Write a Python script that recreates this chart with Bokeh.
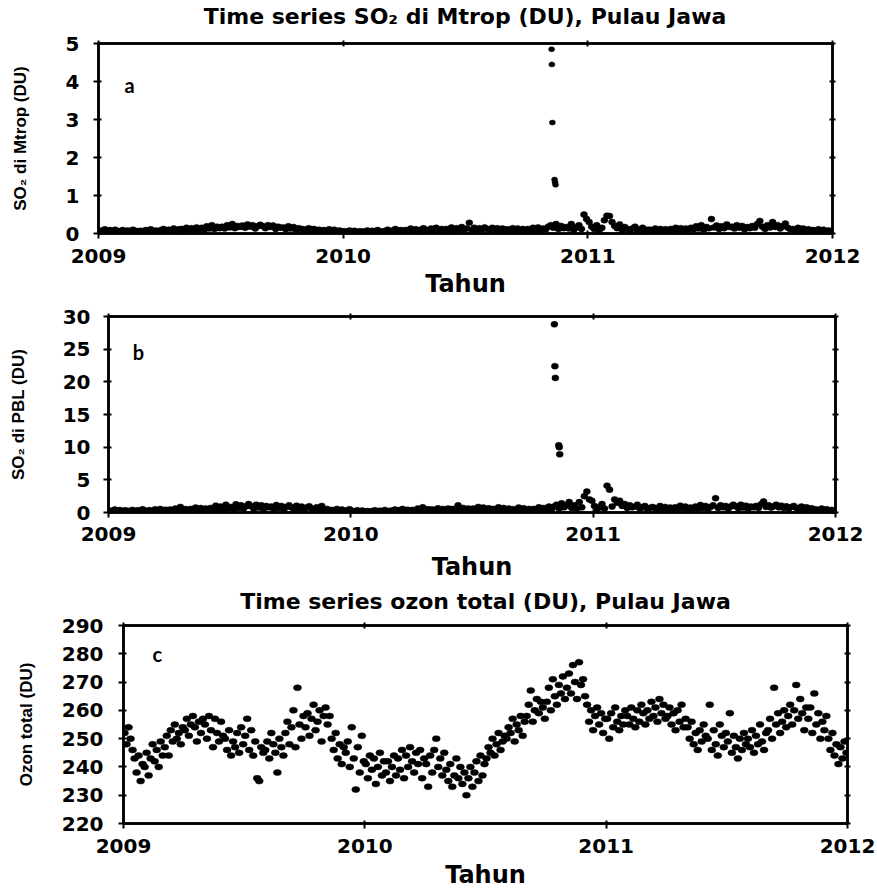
from bokeh.plotting import figure
from bokeh.models import Range1d, FixedTicker, LinearAxis, Label, CustomJSTickFormatter, Div
from bokeh.embed import file_html
from bokeh.resources import INLINE

years = [2009, 2010, 2011]
x_ticks = [2009, 2010, 2011, 2012]

# ---------------- SO2 middle troposphere (DU), 8 samples per month ----------------
mtrop_2009 = [
    [0.08, 0.05, 0.11, 0.06, 0.09, 0.04, 0.10, 0.07],
    [0.06, 0.09, 0.04, 0.08, 0.05, 0.10, 0.07, 0.06],
    [0.07, 0.04, 0.09, 0.06, 0.11, 0.05, 0.08, 0.06],
    [0.09, 0.12, 0.06, 0.10, 0.07, 0.13, 0.08, 0.11],
    [0.12, 0.08, 0.15, 0.10, 0.14, 0.09, 0.16, 0.11],
    [0.15, 0.10, 0.19, 0.13, 0.22, 0.12, 0.18, 0.14],
    [0.18, 0.13, 0.22, 0.16, 0.25, 0.14, 0.20, 0.17],
    [0.21, 0.15, 0.24, 0.18, 0.22, 0.13, 0.19, 0.23],
    [0.19, 0.14, 0.22, 0.17, 0.21, 0.12, 0.18, 0.15],
    [0.16, 0.11, 0.19, 0.13, 0.17, 0.10, 0.14, 0.12],
    [0.11, 0.07, 0.14, 0.09, 0.12, 0.06, 0.10, 0.08],
    [0.09, 0.05, 0.11, 0.07, 0.10, 0.04, 0.08, 0.06],
]
mtrop_2010 = [
    [0.06, 0.04, 0.08, 0.05, 0.07, 0.03, 0.06, 0.05],
    [0.05, 0.08, 0.04, 0.07, 0.05, 0.09, 0.06, 0.04],
    [0.07, 0.10, 0.05, 0.08, 0.12, 0.06, 0.09, 0.07],
    [0.09, 0.06, 0.13, 0.08, 0.11, 0.07, 0.10, 0.14],
    [0.10, 0.07, 0.13, 0.09, 0.15, 0.08, 0.12, 0.10],
    [0.12, 0.08, 0.16, 0.10, 0.14, 0.09, 0.17, 0.11],
    [0.13, 0.28, 0.10, 0.15, 0.09, 0.14, 0.11, 0.16],
    [0.12, 0.09, 0.15, 0.11, 0.14, 0.08, 0.13, 0.10],
    [0.11, 0.08, 0.14, 0.10, 0.13, 0.07, 0.12, 0.09],
    [0.12, 0.09, 0.15, 0.10, 0.16, 0.08, 0.13, 0.11],
    [0.18, 0.22, 0.15, 0.25, 0.12, 0.20, 0.14, 0.17],
    [0.13, 0.25, 0.10, 0.16, 0.22, 0.12, 0.50, 0.38],
]
mtrop_2011 = [
    [0.30, 0.18, 0.12, 0.22, 0.09, 0.15, 0.35, 0.47],
    [0.46, 0.30, 0.20, 0.14, 0.24, 0.10, 0.17, 0.12],
    [0.09, 0.13, 0.18, 0.07, 0.11, 0.15, 0.08, 0.10],
    [0.10, 0.07, 0.13, 0.09, 0.12, 0.06, 0.11, 0.08],
    [0.12, 0.09, 0.15, 0.10, 0.14, 0.08, 0.13, 0.11],
    [0.15, 0.11, 0.19, 0.13, 0.22, 0.10, 0.17, 0.14],
    [0.38, 0.16, 0.21, 0.12, 0.19, 0.14, 0.24, 0.17],
    [0.18, 0.13, 0.22, 0.15, 0.20, 0.11, 0.17, 0.14],
    [0.20, 0.15, 0.25, 0.33, 0.18, 0.12, 0.22, 0.16],
    [0.30, 0.17, 0.22, 0.13, 0.19, 0.26, 0.15, 0.11],
    [0.12, 0.08, 0.15, 0.10, 0.13, 0.07, 0.11, 0.09],
    [0.09, 0.06, 0.11, 0.07, 0.10, 0.05, 0.08, 0.06],
]
# Merapi eruption peaks (Nov 2010)
mtrop_peak_t = [2010.852, 2010.853, 2010.855, 2010.864, 2010.866, 2010.868]
mtrop_peak_v = [4.85, 4.45, 2.92, 1.42, 1.35, 1.28]

# ---------------- SO2 planetary boundary layer (DU) ----------------
pbl_2009 = [
    [0.30, 0.15, 0.45, 0.22, 0.38, 0.12, 0.33, 0.25],
    [0.25, 0.40, 0.18, 0.35, 0.28, 0.50, 0.20, 0.32],
    [0.35, 0.22, 0.48, 0.30, 0.55, 0.25, 0.42, 0.38],
    [0.45, 0.30, 0.60, 0.38, 0.85, 0.35, 0.52, 0.40],
    [0.55, 0.35, 0.75, 0.48, 0.68, 0.40, 0.62, 0.50],
    [0.70, 0.45, 1.05, 0.60, 0.90, 0.50, 1.20, 0.65],
    [0.85, 0.55, 1.25, 0.70, 1.10, 0.60, 0.95, 1.30],
    [0.95, 0.60, 1.20, 0.75, 1.10, 0.55, 1.00, 0.80],
    [0.90, 0.55, 1.15, 0.70, 1.00, 0.50, 0.85, 1.10],
    [0.80, 0.50, 1.05, 0.65, 0.90, 0.45, 0.75, 0.95],
    [0.60, 0.35, 0.80, 0.45, 1.00, 0.30, 0.55, 0.40],
    [0.40, 0.25, 0.55, 0.30, 0.45, 0.20, 0.35, 0.50],
]
pbl_2010 = [
    [0.25, 0.12, 0.35, 0.18, 0.30, 0.10, 0.22, 0.15],
    [0.20, 0.35, 0.12, 0.28, 0.18, 0.40, 0.15, 0.25],
    [0.30, 0.45, 0.20, 0.38, 0.55, 0.25, 0.42, 0.32],
    [0.40, 0.25, 0.60, 0.35, 0.80, 0.30, 0.50, 0.45],
    [0.45, 0.30, 0.65, 0.40, 0.55, 0.35, 0.60, 0.50],
    [0.55, 0.35, 1.10, 0.45, 0.70, 0.40, 0.60, 0.50],
    [0.60, 0.40, 0.85, 0.50, 0.75, 0.45, 0.65, 0.55],
    [0.55, 0.35, 0.80, 0.45, 0.70, 0.40, 0.60, 0.50],
    [0.50, 0.30, 0.75, 0.40, 0.65, 0.35, 0.55, 0.45],
    [0.55, 0.35, 0.80, 0.45, 0.70, 0.40, 0.90, 0.50],
    [0.90, 1.20, 0.60, 1.40, 0.80, 1.10, 1.60, 0.70],
    [1.10, 0.60, 1.60, 0.80, 2.50, 3.20, 2.00, 1.80],
]
pbl_2011 = [
    [1.00, 0.50, 0.80, 1.30, 0.60, 4.10, 3.50, 0.90],
    [2.00, 1.50, 1.80, 1.00, 1.30, 0.70, 1.10, 0.80],
    [0.90, 1.20, 0.60, 0.80, 1.00, 0.50, 0.70, 0.85],
    [0.70, 0.50, 1.00, 0.60, 0.85, 0.45, 0.75, 0.55],
    [0.80, 0.55, 1.05, 0.65, 0.90, 0.50, 0.75, 0.60],
    [0.90, 0.60, 1.15, 0.70, 1.00, 0.55, 0.85, 1.10],
    [2.20, 0.70, 1.10, 0.80, 1.00, 0.60, 0.90, 1.20],
    [0.95, 0.65, 1.20, 0.75, 1.05, 0.60, 0.90, 0.80],
    [1.00, 0.70, 1.25, 1.70, 0.85, 1.10, 0.75, 0.95],
    [1.20, 0.80, 1.05, 0.70, 0.95, 0.60, 0.85, 1.00],
    [0.70, 0.45, 0.90, 0.55, 0.80, 0.40, 0.65, 0.50],
    [0.45, 0.25, 0.60, 0.35, 0.50, 0.20, 0.40, 0.30],
]
pbl_peak_t = [2010.840, 2010.842, 2010.844, 2010.858, 2010.860, 2010.862]
pbl_peak_v = [28.8, 22.4, 20.6, 10.3, 10.0, 8.9]

# ---------------- Total ozone (DU), 10 samples per month ----------------
oz_2009 = [
    [252, 248, 254, 250, 246, 243, 238, 244, 235, 241],
    [240, 245, 237, 243, 248, 242, 246, 240, 249, 244],
    [247, 251, 244, 253, 249, 255, 250, 252, 248, 254],
    [253, 257, 251, 255, 258, 254, 249, 256, 252, 257],
    [255, 250, 258, 253, 247, 257, 252, 249, 256, 251],
    [250, 246, 253, 244, 249, 247, 252, 245, 254, 248],
    [251, 257, 246, 253, 244, 249, 236, 235, 247, 245],
    [246, 249, 243, 252, 248, 245, 238, 250, 247, 244],
    [252, 256, 248, 254, 260, 247, 268, 255, 250, 258],
    [254, 259, 251, 257, 262, 253, 256, 260, 249, 258],
    [261, 255, 258, 250, 246, 252, 243, 248, 241, 247],
    [245, 249, 240, 254, 243, 232, 247, 238, 251, 242],
]
oz_2010 = [
    [241, 236, 244, 239, 243, 234, 240, 245, 237, 242],
    [238, 242, 235, 240, 244, 237, 243, 239, 246, 236],
    [244, 240, 247, 242, 238, 245, 241, 246, 236, 243],
    [241, 233, 244, 238, 246, 250, 240, 243, 237, 245],
    [239, 235, 241, 233, 237, 243, 236, 240, 234, 238],
    [230, 236, 240, 233, 238, 242, 235, 244, 237, 241],
    [243, 247, 245, 250, 244, 248, 252, 246, 249, 251],
    [250, 254, 252, 257, 249, 255, 253, 258, 251, 256],
    [258, 262, 267, 256, 260, 264, 259, 263, 261, 257],
    [263, 268, 260, 271, 265, 262, 269, 266, 272, 264],
    [268, 273, 266, 276, 270, 264, 277, 269, 271, 265],
    [262, 256, 260, 253, 258, 261, 255, 259, 252, 257],
]
oz_2011 = [
    [257, 250, 259, 254, 261, 256, 253, 258, 255, 260],
    [258, 255, 261, 257, 254, 260, 256, 262, 259, 255],
    [260, 257, 263, 258, 261, 256, 264, 259, 262, 257],
    [258, 261, 255, 259, 253, 260, 256, 262, 254, 257],
    [254, 250, 256, 248, 252, 246, 253, 249, 255, 251],
    [250, 262, 246, 253, 248, 244, 255, 251, 247, 252],
    [249, 259, 245, 251, 247, 243, 250, 246, 252, 248],
    [250, 247, 253, 245, 251, 248, 255, 249, 246, 252],
    [253, 257, 250, 268, 255, 259, 252, 256, 260, 254],
    [258, 262, 255, 260, 269, 257, 264, 259, 253, 261],
    [257, 261, 252, 266, 255, 259, 250, 256, 253, 258],
    [250, 246, 252, 244, 248, 241, 247, 243, 249, 245],
]

title_a = "Time series SO\u2082 di Mtrop (DU), Pulau Jawa"
title_c = "Time series ozon total (DU), Pulau Jawa"


def monthly_points(blocks):
    xs, ys = [], []
    for yr, block in zip(years, blocks):
        for m, vals in enumerate(block):
            n = len(vals)
            for i, v in enumerate(vals):
                xs.append(yr + (m + (i + 0.5) / n) / 12.0)
                ys.append(v)
    return xs, ys


TICK_FONT = "DejaVu Sans"
BLANK = CustomJSTickFormatter(code="return ''")


def title_div(text, height, line_h, shift):
    html = ('<div style="margin-left:%dpx; width:%dpx; text-align:center; '
            'line-height:%dpx; height:%dpx; overflow:visible; '
            'font-family:\'DejaVu Sans\'; font-weight:bold; '
            'font-size:22px; color:black; white-space:nowrap;">%s</div>'
            % (shift, 877 - shift, line_h, height, text))
    return Div(text=html, width=877, height=height, margin=(0, 0, 0, 0))


def make_panel(h, left, right, top, bottom, yr, yticks, ylabel, ylab_std,
               ytick_std, xlab_std, xtick_std):
    p = figure(width=877, height=h,
               x_range=Range1d(2009, 2012), y_range=Range1d(*yr),
               output_backend="svg", toolbar_location=None,
               title=None,
               min_border_left=left, min_border_right=right,
               min_border_top=top, min_border_bottom=bottom,
               background_fill_color="white", border_fill_color="white")
    p.grid.visible = False
    p.outline_line_color = "black"
    p.outline_line_width = 2.5

    xa = p.xaxis[0]
    xa.ticker = FixedTicker(ticks=x_ticks, minor_ticks=[])
    xa.axis_label = "Tahun"
    xa.axis_label_text_font = TICK_FONT
    xa.axis_label_text_font_size = "24px"
    xa.axis_label_standoff = xlab_std
    xa.major_label_standoff = xtick_std

    ya = p.yaxis[0]
    ya.ticker = FixedTicker(ticks=yticks, minor_ticks=[])
    ya.axis_label = ylabel
    ya.axis_label_text_font = "Liberation Sans"
    ya.axis_label_text_font_size = "17px"
    ya.axis_label_standoff = ylab_std
    ya.major_label_standoff = ytick_std

    for ax in (xa, ya):
        ax.major_label_text_font = TICK_FONT
        ax.major_label_text_font_style = "bold"
        ax.major_label_text_font_size = "20px"
        ax.major_label_text_color = "black"
        ax.axis_label_text_color = "black"
        ax.axis_label_text_font_style = "bold"
        ax.axis_line_width = 2.5
        ax.axis_line_color = "black"
        ax.major_tick_line_width = 2
        ax.major_tick_line_color = "black"
        ax.major_tick_out = 5
        ax.major_tick_in = 3
        ax.minor_tick_line_color = None

    top_ax = LinearAxis(ticker=FixedTicker(ticks=x_ticks, minor_ticks=[]),
                        formatter=BLANK, major_label_text_color=None,
                        major_label_text_font_size="1px", major_label_standoff=0,
                        axis_line_width=2.5, major_tick_line_width=2,
                        major_tick_out=3, major_tick_in=3,
                        minor_tick_line_color=None)
    right_ax = LinearAxis(ticker=FixedTicker(ticks=yticks, minor_ticks=[]),
                          formatter=BLANK, major_label_text_color=None,
                          major_label_text_font_size="1px", major_label_standoff=0,
                          axis_line_width=2.5, major_tick_line_width=2,
                          major_tick_out=3, major_tick_in=3,
                          minor_tick_line_color=None)
    p.add_layout(top_ax, "above")
    p.add_layout(right_ax, "right")
    return p


def dots(p, xs, ys, w=7, hgt=5.5):
    p.ellipse(x=xs, y=ys, width=w, height=hgt,
              width_units="screen", height_units="screen",
              fill_color="black", line_color="black", line_width=0.5)


def panel_letter(p, x, y, t):
    p.add_layout(Label(x=x, y=y, text=t, text_font="Lato",
                       text_font_style="bold", text_font_size="20px",
                       text_align="center", text_baseline="middle", text_color="black"))


# ---------------- Panel a ----------------
div_a = title_div(title_a, 30, 34, 53)
pa = make_panel(270, 98, 45, 13, 67, (0, 5), [0, 1, 2, 3, 4, 5],
                "SO\u2082 di Mtrop (DU)", 33, 14, 4, 10)
mx, my = monthly_points([mtrop_2009, mtrop_2010, mtrop_2011])
dots(pa, mx, my, 7, 6)
dots(pa, mtrop_peak_t, mtrop_peak_v, 6, 5)
panel_letter(pa, 2009.127, 3.9, "a")

# ---------------- Panel b ----------------
pb = make_panel(285, 108, 42, 16, 73, (0, 30), [0, 5, 10, 15, 20, 25, 30],
                "SO\u2082 di PBL (DU)", 32, 13, 9, 9)
bx, by = monthly_points([pbl_2009, pbl_2010, pbl_2011])
dots(pb, bx, by, 7, 6)
dots(pb, pbl_peak_t, pbl_peak_v, 7, 6)
panel_letter(pb, 2009.124, 24.5, "b")

# ---------------- Panel c ----------------
div_c = title_div(title_c, 28, 34, 94)
pc = make_panel(278, 123, 30, 12, 68, (220, 290), [220, 230, 240, 250, 260, 270, 280, 290],
                "Ozon total (DU)", 23, 15, 5, 10)
ox, oy = monthly_points([oz_2009, oz_2010, oz_2011])
dots(pc, ox, oy, 8, 6)
panel_letter(pc, 2009.14, 280, "c")

open("out.html", "w").write(file_html([div_a, pa, pb, div_c, pc], INLINE))
